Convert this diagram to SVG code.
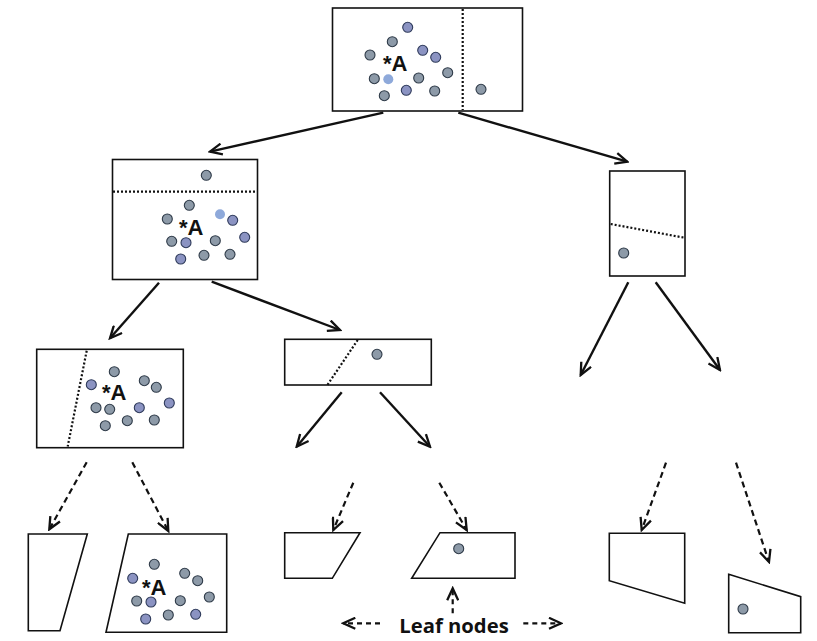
<svg xmlns="http://www.w3.org/2000/svg" width="817" height="641" viewBox="0 0 817 641">
<style>
.box{fill:#fff;stroke:#111;stroke-width:1.6}
.split{fill:none;stroke:#111;stroke-width:2.2;stroke-dasharray:2 2}
.pt{fill:#8d9aa8;stroke:#2e3a48;stroke-width:1.1}
.pb{fill:#8b93c2;stroke:#2e3a5a;stroke-width:1.1}
.pl{fill:#8ea9da;stroke:none}
.lab{font-family:"Liberation Sans",Arial,sans-serif;font-weight:bold;font-size:22px;fill:#111}
.solid{fill:none;stroke:#111;stroke-width:2.4;marker-end:url(#ah)}
.dash{fill:none;stroke:#111;stroke-width:2.2;stroke-dasharray:6 4;marker-end:url(#ah)}
.leaf{font-family:"Open Sans","Liberation Sans",sans-serif;font-weight:bold;font-size:20px;fill:#111}
</style>
<defs>
<marker id="ah" viewBox="0 0 15 13" markerWidth="15" markerHeight="13" refX="13" refY="6.5" orient="auto" markerUnits="userSpaceOnUse">
<path d="M1,1 L13,6.5 L1,12" fill="none" stroke="#111" stroke-width="2.3"/>
</marker>
</defs>
<rect width="817" height="641" fill="#fff"/>

<g id="root">
<rect class="box" x="332.5" y="8" width="190" height="103"/>
<line class="split" x1="462.7" y1="9" x2="462.7" y2="110"/>
<circle class="pb" cx="407.7" cy="27.3" r="5"/>
<circle class="pt" cx="392.3" cy="41.7" r="5"/>
<circle class="pt" cx="370" cy="55" r="5"/>
<circle class="pb" cx="422.7" cy="50.3" r="5"/>
<circle class="pb" cx="435.7" cy="57.3" r="5"/>
<circle class="pt" cx="447.7" cy="72.7" r="5"/>
<circle class="pt" cx="374.3" cy="78.7" r="5"/>
<circle class="pl" cx="388.3" cy="79.3" r="5"/>
<circle class="pt" cx="418.7" cy="78" r="5"/>
<circle class="pt" cx="384.3" cy="95.7" r="5"/>
<circle class="pb" cx="406.3" cy="90.3" r="5"/>
<circle class="pt" cx="434.7" cy="91" r="5"/>
<circle class="pt" cx="481" cy="89.3" r="5"/>
<text class="lab" x="383" y="71">*A</text>
</g>

<g id="n_left">
<rect class="box" x="112.5" y="159.5" width="145" height="120"/>
<line class="split" x1="113" y1="191.7" x2="257" y2="191.7"/>
<circle class="pt" cx="206.3" cy="175.3" r="5"/>
<circle class="pt" cx="189.3" cy="205.3" r="5"/>
<circle class="pt" cx="167.3" cy="219" r="5"/>
<circle class="pl" cx="220" cy="214.3" r="5"/>
<circle class="pb" cx="232.7" cy="220.3" r="5"/>
<circle class="pb" cx="244.7" cy="237.3" r="5"/>
<circle class="pt" cx="171.7" cy="241.3" r="5"/>
<circle class="pb" cx="186" cy="242.7" r="5"/>
<circle class="pt" cx="215.3" cy="240.7" r="5"/>
<circle class="pb" cx="180.7" cy="259" r="5"/>
<circle class="pt" cx="204" cy="255.3" r="5"/>
<circle class="pt" cx="230" cy="254.3" r="5"/>
<text class="lab" x="179" y="235">*A</text>
</g>

<g id="n_right">
<rect class="box" x="609.7" y="171" width="75.3" height="105"/>
<line class="split" x1="610.7" y1="224" x2="684.3" y2="237.7"/>
<circle class="pt" cx="623.7" cy="253" r="5"/>
</g>

<g id="n_ll">
<rect class="box" x="36.7" y="349.3" width="146.6" height="98.4"/>
<line class="split" x1="86.7" y1="350.7" x2="67.7" y2="446.5"/>
<circle class="pt" cx="114.3" cy="371.7" r="5"/>
<circle class="pb" cx="91.3" cy="384.7" r="5"/>
<circle class="pt" cx="144.3" cy="380.7" r="5"/>
<circle class="pt" cx="156.3" cy="387.3" r="5"/>
<circle class="pb" cx="169.3" cy="403" r="5"/>
<circle class="pt" cx="96" cy="407.7" r="5"/>
<circle class="pt" cx="109.7" cy="409.3" r="5"/>
<circle class="pb" cx="139.3" cy="407.7" r="5"/>
<circle class="pt" cx="105.3" cy="425.7" r="5"/>
<circle class="pt" cx="127.3" cy="420.7" r="5"/>
<circle class="pt" cx="154.3" cy="420" r="5"/>
<text class="lab" x="102" y="400">*A</text>
</g>

<g id="n_lr">
<rect class="box" x="284.7" y="339.3" width="146.6" height="45.7"/>
<line class="split" x1="357.7" y1="340" x2="326.7" y2="386"/>
<circle class="pt" cx="377" cy="354.3" r="5"/>
</g>

<g id="leaf1">
<polygon class="box" points="28.3,534 87.3,534 60,630.7 28.3,630.7"/>
</g>
<g id="leaf2">
<polygon class="box" points="128.3,534 226.7,534 226.7,632.3 106,632.3"/>
<circle class="pt" cx="154.3" cy="564.3" r="5"/>
<circle class="pb" cx="132.7" cy="578.3" r="5"/>
<circle class="pt" cx="184.7" cy="573.3" r="5"/>
<circle class="pt" cx="197.7" cy="580.7" r="5"/>
<circle class="pt" cx="209.3" cy="597" r="5"/>
<circle class="pt" cx="136.7" cy="601" r="5"/>
<circle class="pb" cx="151" cy="602" r="5"/>
<circle class="pt" cx="180.3" cy="600.7" r="5"/>
<circle class="pb" cx="145.7" cy="619" r="5"/>
<circle class="pt" cx="168.3" cy="615" r="5"/>
<circle class="pb" cx="195.7" cy="614.3" r="5"/>
<text class="lab" x="142" y="595">*A</text>
</g>
<g id="leaf3">
<polygon class="box" points="284.7,532.7 360,532.7 332.3,578.3 284.7,578.3"/>
</g>
<g id="leaf4">
<polygon class="box" points="440,532.7 515,532.7 515,578.3 411.7,578.3"/>
<circle class="pt" cx="458.7" cy="548.7" r="5"/>
</g>
<g id="leaf5">
<polygon class="box" points="609.3,533.3 684.7,533.3 684.7,603.3 609.3,580.7"/>
</g>
<g id="leaf6">
<polygon class="box" points="728.7,574.3 800.7,596.7 800.7,632.7 728.7,632.7"/>
<circle class="pt" cx="743" cy="609" r="5"/>
</g>

<g id="connectors">
<line class="solid" x1="383.3" y1="112.7" x2="210" y2="151.7"/>
<line class="solid" x1="458.3" y1="112.7" x2="627.3" y2="161.7"/>
<line class="solid" x1="159" y1="282.7" x2="110" y2="338.3"/>
<line class="solid" x1="211.7" y1="281.7" x2="340" y2="330"/>
<line class="solid" x1="341.7" y1="392.3" x2="296.7" y2="446.7"/>
<line class="solid" x1="380" y1="392.3" x2="430" y2="446.7"/>
<line class="solid" x1="628.3" y1="282.3" x2="580.7" y2="375"/>
<line class="solid" x1="655.7" y1="282.3" x2="720" y2="370"/>
<line class="dash" x1="86.7" y1="462.3" x2="49.3" y2="529.3"/>
<line class="dash" x1="132.3" y1="462.3" x2="168.3" y2="531"/>
<line class="dash" x1="353.3" y1="482.7" x2="333.3" y2="530"/>
<line class="dash" x1="439.3" y1="482.7" x2="466.7" y2="530"/>
<line class="dash" x1="666" y1="462.7" x2="641.7" y2="530"/>
<line class="dash" x1="736" y1="462.7" x2="769" y2="562"/>
<line class="dash" x1="380" y1="623.3" x2="343.3" y2="623.3" style="stroke-dasharray:5 4"/>
<line class="dash" x1="523.3" y1="623.3" x2="561" y2="623.3" style="stroke-dasharray:5 4"/>
<line class="dash" x1="452.7" y1="613.3" x2="452.7" y2="588.3" style="stroke-dasharray:5 4"/>
</g>

<g id="label">
<text class="leaf" x="399.3" y="633" textLength="109.4" lengthAdjust="spacingAndGlyphs">Leaf nodes</text>
</g>
</svg>
